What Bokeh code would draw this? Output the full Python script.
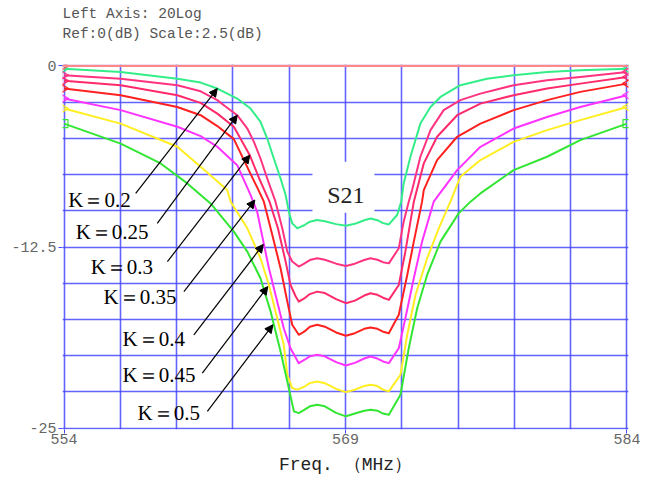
from bokeh.plotting import figure
from bokeh.models import (Range1d, FixedTicker, Label, LabelSet, Arrow, NormalHead,
                          BoxAnnotation, ColumnDataSource, Span, Title)
from bokeh.embed import file_html
from bokeh.resources import INLINE
import numpy as np

# ---------------- data ----------------
x_grid = [554, 557, 560, 563, 566, 569, 572, 575, 578, 581, 584]
y_grid = [0, -2.5, -5, -7.5, -10, -12.5, -15, -17.5, -20, -22.5, -25]
x_ticks = [554, 569, 584]
y_ticks = [0, -12.5, -25]
ref_db = 0
header_lines = ["Left Axis: 20Log", "Ref:0(dB) Scale:2.5(dB)"]

k_names = ["K\uff1d0.2", "K\uff1d0.25", "K\uff1d0.3", "K\uff1d0.35", "K\uff1d0.4", "K\uff1d0.45", "K\uff1d0.5"]

# frequencies of the ripple region at the bottom of the notch
f_bottom = [566.8, 567.1, 567.49, 567.9, 568.5, 569.02, 569.5, 570.0, 570.33, 570.7, 571.0, 571.31]

f_k020 = [554.00, 557.02, 560.04, 561.28, 562.17, 562.52, 563.23, 563.94, 564.47, 564.83, 565.18, 565.54,
          565.81, 565.98, 566.16, 566.43] + f_bottom + [571.75, 571.97, 572.10, 572.46, 572.99, 573.53, 574.06,
                                                        575.12, 576.54, 577.96, 579.74, 581.51, 584.00]
db_k020 = [-0.19, -0.41, -0.88, -1.15, -1.56, -1.79, -2.25, -2.94, -3.86, -5.01, -6.39, -7.77, -8.91, -10.06,
           -10.87, -11.21,
           -11.0, -10.75, -10.64, -10.72, -10.92, -11.03, -10.9, -10.65, -10.53, -10.65, -10.85, -10.94,
           -10.29, -9.37, -8.11, -6.27, -3.98, -2.83, -2.14, -1.33, -0.88, -0.64, -0.41, -0.30, -0.19]

f_k025 = [554.00, 557.02, 560.04, 561.28, 562.17, 562.52, 563.23, 563.77, 564.12, 564.47, 564.83, 565.27,
          565.63, 565.90, 566.16, 566.51] + f_bottom + [571.84, 572.10, 572.37, 572.55, 572.99, 573.53, 574.23,
                                                        575.12, 576.19, 577.96, 579.74, 581.51, 584.00]
db_k025 = [-0.64, -0.88, -1.33, -1.75, -2.36, -2.71, -3.40, -4.32, -5.24, -6.39, -7.77, -9.37, -11.21, -12.82,
           -13.5, -13.85,
           -13.65, -13.4, -13.28, -13.38, -13.65, -13.81, -13.65, -13.4, -13.28, -13.38, -13.55, -13.63,
           -12.59, -10.75, -9.37, -8.57, -6.27, -4.43, -3.05, -2.36, -1.91, -1.33, -0.99, -0.76, -0.41]

f_k030 = [554.00, 557.02, 560.04, 561.28, 562.17, 563.05, 563.90, 564.40, 564.95, 565.40, 565.81, 566.07,
          566.34, 566.51] + f_bottom + [571.84, 572.19, 572.64, 573.17, 573.88, 574.95, 576.19, 577.96, 579.74,
                                        581.51, 584.00]
db_k030 = [-1.03, -1.33, -2.02, -2.55, -3.29, -4.20, -6.16, -7.77, -9.37, -11.21, -13.51, -15.12, -15.9,
           -16.27,
           -16.05, -15.75, -15.58, -15.68, -16.1, -16.38, -16.2, -15.85, -15.69, -15.8, -16.0, -16.15,
           -15.12, -12.82, -9.37, -6.73, -4.89, -3.40, -2.60, -2.02, -1.56, -1.22, -0.76]

f_k035 = [554.00, 557.02, 560.04, 561.28, 562.17, 563.05, 563.94, 564.30, 564.65, 565.10, 565.54, 565.90,
          566.16, 566.51] + f_bottom + [571.84, 572.29, 572.64, 573.08, 573.17, 573.88, 574.95, 576.19, 577.96,
                                        579.74, 581.51, 584.00]
db_k035 = [-1.56, -2.02, -2.83, -3.40, -4.15, -5.05, -7.45, -8.40, -9.37, -11.67, -13.97, -16.27, -17.87,
           -18.56,
           -18.35, -18.0, -17.87, -18.0, -18.4, -18.63, -18.45, -18.15, -18.06, -18.15, -18.35, -18.45,
           -17.18, -14.43, -12.13, -9.37, -8.57, -6.50, -4.89, -3.98, -3.05, -2.36, -1.79, -1.22]

f_k040 = [554.00, 557.02, 560.04, 561.28, 562.17, 563.23, 563.94, 564.30, 564.55, 564.92, 565.36, 565.71,
          566.07, 566.51] + f_bottom + [571.84, 572.19, 572.64, 573.08, 573.70, 574.95, 576.19, 577.96, 579.74,
                                        581.51, 584.00]
db_k040 = [-2.25, -3.05, -4.20, -4.85, -5.58, -6.85, -8.90, -10.10, -11.67, -13.97, -16.27, -18.11, -19.49,
           -20.52,
           -20.3, -20.05, -19.94, -20.05, -20.45, -20.68, -20.5, -20.2, -20.06, -20.2, -20.4, -20.52,
           -19.49, -17.42, -14.66, -12.13, -9.37, -7.19, -5.58, -4.32, -3.52, -2.83, -2.02]

f_k045 = [554.00, 557.02, 560.04, 561.28, 562.70, 562.88, 563.77, 564.47, 564.92, 565.36, 565.71, 565.90,
          566.16, 566.43] + f_bottom + [571.93, 572.29, 572.73, 573.35, 573.97, 574.59, 575.12, 576.19, 577.96,
                                        579.74, 581.51, 584.00]
db_k045 = [-2.94, -3.98, -5.58, -6.96, -8.57, -9.37, -11.21, -13.28, -15.12, -17.42, -19.25, -21.32, -22.24,
           -22.35,
           -22.15, -21.9, -21.78, -21.9, -22.3, -22.52, -22.35, -22.1, -22.01, -22.1, -22.35, -22.47,
           -21.32, -18.56, -15.81, -13.28, -11.21, -9.37, -7.65, -6.50, -5.24, -4.43, -3.74, -2.83]

f_k050 = [554.00, 557.02, 559.15, 560.57, 561.81, 563.05, 563.77, 564.47, 565.01, 565.54, 565.90, 566.25,
          566.51] + f_bottom + [571.93, 572.37, 572.82, 573.35, 574.06, 575.03, 575.66, 576.19, 577.96, 579.74,
                                581.51, 584.00]
db_k050 = [-3.98, -5.36, -6.73, -8.11, -9.49, -11.44, -12.82, -14.66, -16.96, -19.71, -21.78, -23.85, -23.97,
           -23.75, -23.5, -23.39, -23.5, -23.95, -24.19, -24.0, -23.8, -23.73, -23.8, -24.0, -24.08,
           -22.70, -19.49, -16.73, -14.43, -12.13, -10.18, -9.37, -8.80, -7.19, -6.27, -5.12, -3.98]

# label anchor (left, middle) and arrow start/end for each K value
lab_f = [554.23, 554.62, 555.42, 556.11, 557.12, 557.12, 557.92]
lab_db = [-9.24, -11.44, -13.85, -15.92, -18.82, -21.37, -23.99]
arr_f0 = [557.82, 558.97, 559.51, 560.39, 560.92, 561.37, 561.64]
arr_db0 = [-8.80, -10.87, -13.51, -15.58, -18.56, -21.21, -23.85]
arr_f1 = [562.17, 563.23, 563.90, 564.17, 564.62, 564.86, 565.13]
arr_db1 = [-1.56, -3.40, -6.16, -9.26, -12.32, -15.23, -17.87]

# ---------------- styling ----------------
colors = ["#33ee88", "#ff3380", "#ff2a6a", "#ff2020", "#ff33ff", "#ffee22", "#33e633"]
grid_blue = "#4848ff"
mono = "Liberation Mono"
serif = "Liberation Serif"

p = figure(width=640, height=480, x_range=Range1d(553.92, 584.08), y_range=Range1d(-25.1, 0.1),
           output_backend="svg", toolbar_location=None, title=None,
           min_border_left=62, min_border_right=12, min_border_top=63, min_border_bottom=51)
p.outline_line_color = None
p.background_fill_color = "white"
p.border_fill_color = "white"

# header: two lines plus an empty spacer line above the frame
p.add_layout(Title(text="\n".join(header_lines + [" "]), align="left", text_font=mono,
                   text_font_size="14.5px", text_font_style="normal", text_color="#555555",
                   text_line_height=1.25, standoff=6), "above")

p.xgrid.ticker = FixedTicker(ticks=x_grid)
p.ygrid.ticker = FixedTicker(ticks=y_grid)
for g in (p.xgrid, p.ygrid):
    g.grid_line_color = grid_blue
    g.grid_line_width = 1.6
    g.grid_line_alpha = 0.85

p.xaxis.ticker = FixedTicker(ticks=x_ticks)
p.yaxis.ticker = FixedTicker(ticks=y_ticks)
p.yaxis.major_label_overrides = {0: "0", -12.5: "-12.5", -25: "-25"}
for ax in (p.xaxis, p.yaxis):
    ax.axis_line_color = None
    ax.major_tick_line_color = grid_blue
    ax.major_tick_out = 4
    ax.major_tick_in = 0
    ax.minor_tick_line_color = None
    ax.major_label_text_font = mono
    ax.major_label_text_font_size = "15px"
    ax.major_label_text_color = "#666666"
p.xaxis.major_label_standoff = 0
p.yaxis.major_label_standoff = 2

p.xaxis.axis_label = "Freq. \uff08MHz\uff09"
p.xaxis.axis_label_text_font = mono
p.xaxis.axis_label_text_font_size = "18px"
p.xaxis.axis_label_text_font_style = "normal"
p.xaxis.axis_label_text_color = "#222222"
p.xaxis.axis_label_standoff = 8

# reference line
p.add_layout(Span(location=ref_db, dimension="width", line_color="#ff8888", line_width=2.2))

# white box behind the trace name
p.add_layout(BoxAnnotation(left=567.24, right=570.54, top=-6.62, bottom=-10.13,
                           fill_color="white", fill_alpha=1.0, line_alpha=0, level="underlay"))

series = [(f_k020, db_k020), (f_k025, db_k025), (f_k030, db_k030), (f_k035, db_k035),
          (f_k040, db_k040), (f_k045, db_k045), (f_k050, db_k050)]
for (fx, dy), c in zip(series, colors):
    p.line(fx, dy, line_color=c, line_width=2.0, line_join="round")

# end markers
for i, ((fx, dy), c) in enumerate(zip(series, colors)):
    mk = "square" if i == len(series) - 1 else "triangle"
    p.scatter([fx[0]], [dy[0]], marker=mk, angle=-np.pi / 2 if mk == "triangle" else 0,
              size=8, fill_color=None, line_color=c, line_width=1.2)
    p.scatter([fx[-1]], [dy[-1]], marker=mk, angle=np.pi / 2 if mk == "triangle" else 0,
              size=8, fill_color=None, line_color=c, line_width=1.2)
p.scatter([x_grid[0]], [ref_db], marker="triangle", angle=-np.pi / 2, size=8,
          fill_color=None, line_color="#ff6666", line_width=1.2)

# arrows
asrc = ColumnDataSource(dict(x0=arr_f0, y0=arr_db0, x1=arr_f1, y1=arr_db1))
p.add_layout(Arrow(end=NormalHead(size=8, fill_color="black", line_color="black"),
                   x_start="x0", y_start="y0", x_end="x1", y_end="y1", source=asrc,
                   line_color="black", line_width=1.2))

# K labels
lsrc = ColumnDataSource(dict(x=lab_f, y=lab_db, t=k_names))
p.add_layout(LabelSet(x="x", y="y", text="t", source=lsrc, text_font=serif, text_font_size="21px",
                      text_color="black", text_baseline="middle", text_align="left"))

# trace name
p.add_layout(Label(x=569.02, y=-8.89, text="S21", text_font=serif, text_font_size="24px",
                   text_color="#222222", text_align="center", text_baseline="middle"))

open("out.html", "w").write(file_html(p, INLINE))
